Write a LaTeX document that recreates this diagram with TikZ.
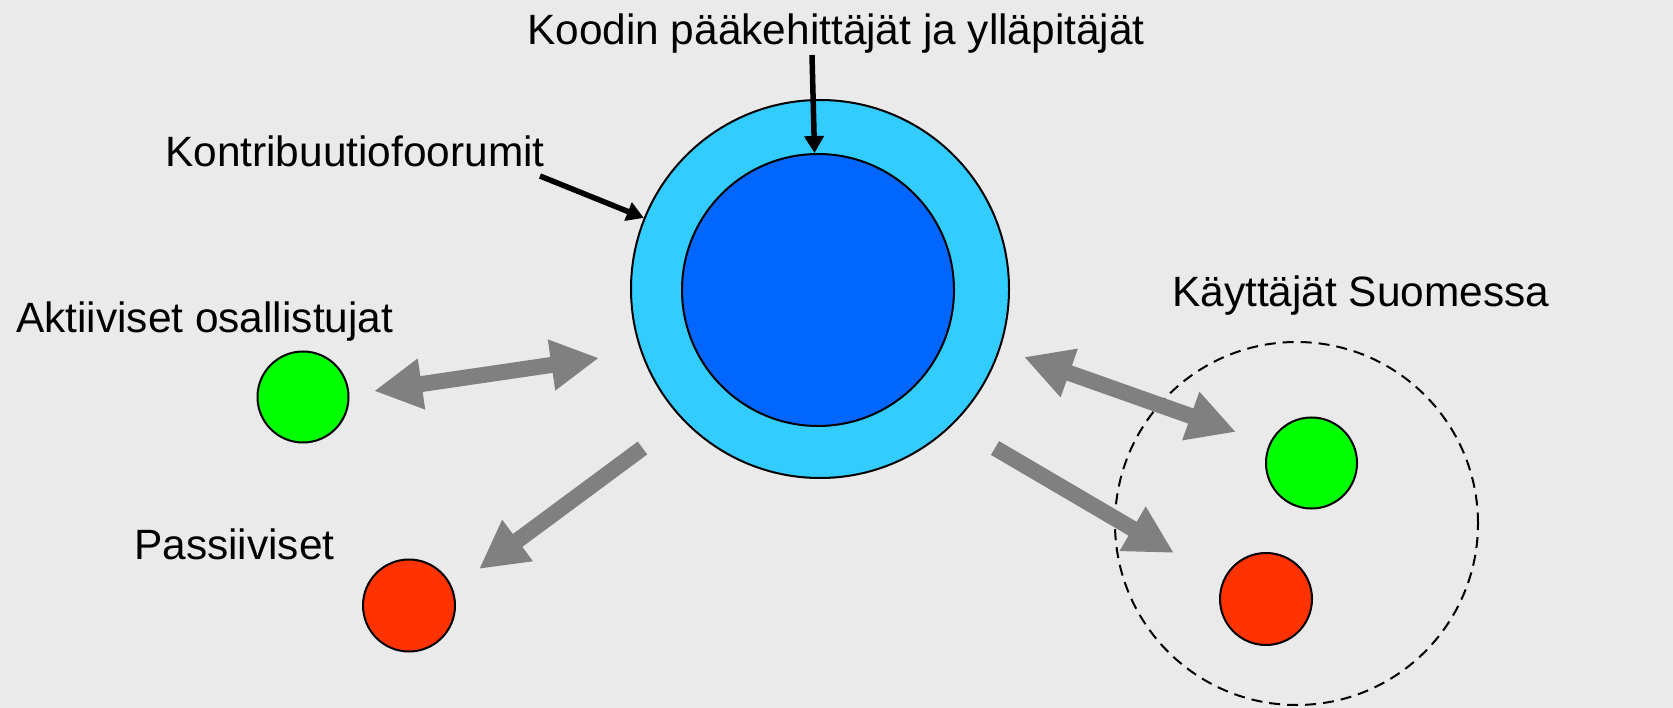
\documentclass[tikz,border=0pt]{standalone}
\usepackage{fontspec}
\setmainfont{Liberation Sans}
\usetikzlibrary{arrows.meta}
\definecolor{bg}{HTML}{EAEAEA}
\definecolor{lightblue}{HTML}{33CCFF}
\definecolor{darkblue}{HTML}{0066FF}
\definecolor{dotgreen}{HTML}{00FF00}
\definecolor{dotred}{HTML}{FF3300}
\definecolor{arrowgray}{HTML}{808080}
\begin{document}
\begin{tikzpicture}[x=1pt,y=-1pt,
  disc/.style={circle, draw=black, line width=2pt, inner sep=0pt},
  lbl/.style={inner sep=0pt, anchor=base west, font=\fontsize{42.4}{50}\selectfont},
  grayarrow/.style={draw=arrowgray, line width=16pt},
  ptr/.style={draw=black, line width=5.5pt, -{Triangle[length=17pt,width=19pt]}}]
\fill[bg] (0,0) rectangle (1673,708);
\useasboundingbox (0,0) rectangle (1673,708);

% central circles
\node[disc, fill=lightblue, minimum size=378pt] (outer) at (820,289) {};
\node[disc, fill=darkblue, minimum size=272pt] (inner) at (818,290) {};

% users in Finland group
\node[circle, draw=black, line width=2pt, dash pattern=on 11pt off 7pt, inner sep=0pt, minimum size=363pt] (group) at (1296.5,523.5) {};

% small discs
\node[disc, fill=dotgreen, minimum size=91pt] (ga) at (303,397) {};
\node[disc, fill=dotred, minimum size=92pt] (rp) at (409,605.5) {};
\node[disc, fill=dotgreen, minimum size=91pt] (gf) at (1311.5,463) {};
\node[disc, fill=dotred, minimum size=92pt] (rf) at (1266,599) {};

% labels
\node[lbl] (koodin) at (527,45) {Koodin pääkehittäjät ja ylläpitäjät};
\node[lbl] (kontri) at (165,167) {Kontribuutiofoorumit};
\node[lbl] (aktiiv) at (16,333) {Aktiiviset osallistujat};
\node[lbl] (passiiv) at (134,559) {Passiiviset};
\node[lbl] (kayttajat) at (1172,307) {Käyttäjät Suomessa};

% pointer arrows
\coordinate (kst) at (812,55);
\coordinate (fst) at (540,176);
\draw[ptr] (kst) -- (inner);
\draw[ptr] (fst) -- (outer);

% gray arrows
\coordinate (l1) at (374,391);
\coordinate (l2) at (599,358);
\coordinate (d1) at (642.5,448);
\coordinate (d2) at (479,569);
\coordinate (r1) at (1024,357);
\coordinate (r2) at (1236,432);
\coordinate (e1) at (995,448);
\coordinate (e2) at (1174,553);
\draw[grayarrow, {Triangle[length=48pt,width=48pt]}-{Triangle[length=48pt,width=48pt]}] (l1) -- (l2);
\draw[grayarrow, -{Triangle[length=48pt,width=48pt]}] (d1) -- (d2);
\draw[grayarrow, {Triangle[length=48pt,width=48pt]}-{Triangle[length=48pt,width=48pt]}] (r1) -- (r2);
\draw[grayarrow, -{Triangle[length=48pt,width=48pt]}] (e1) -- (e2);
\end{tikzpicture}
\end{document}
